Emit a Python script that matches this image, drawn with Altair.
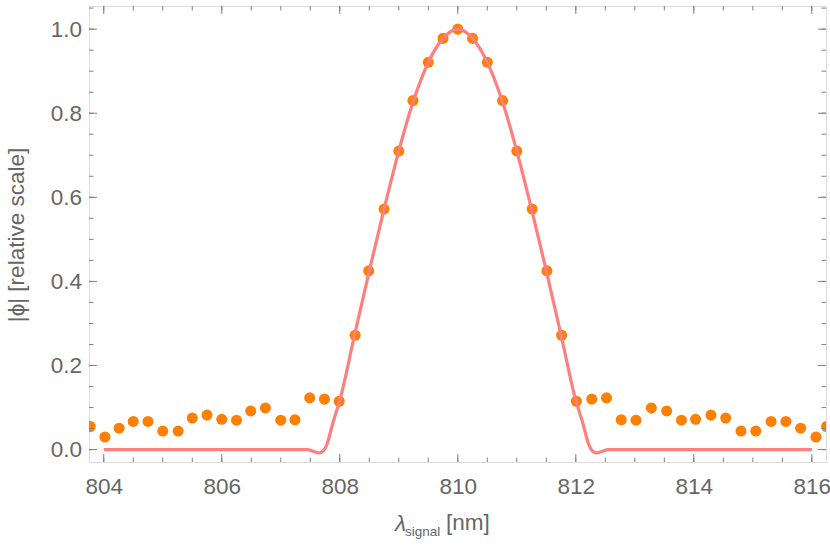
import altair as alt
import pandas as pd

# ---- data ----
pt_lambda = [803.77, 804.02, 804.26, 804.50, 804.75, 805.00, 805.26, 805.50, 805.75, 806.00,
             806.25, 806.49, 806.74, 807.00, 807.24, 807.49, 807.74, 807.99, 808.26, 808.49,
             808.75, 809.00, 809.24, 809.50, 809.75, 810.00, 810.25, 810.50, 810.76, 811.00,
             811.26, 811.51, 811.76, 812.01, 812.27, 812.52, 812.77, 813.02, 813.28, 813.54,
             813.79, 814.03, 814.29, 814.54, 814.80, 815.05, 815.31, 815.56, 815.81, 816.07,
             816.25]
pt_phi = [0.055, 0.030, 0.051, 0.067, 0.067, 0.044, 0.044, 0.075, 0.082, 0.072,
          0.070, 0.092, 0.099, 0.070, 0.071, 0.123, 0.120, 0.115, 0.272, 0.425,
          0.572, 0.710, 0.830, 0.921, 0.978, 1.000, 0.978, 0.921, 0.830, 0.710,
          0.572, 0.425, 0.272, 0.115, 0.120, 0.123, 0.071, 0.070, 0.099, 0.092,
          0.070, 0.072, 0.082, 0.075, 0.044, 0.044, 0.067, 0.067, 0.051, 0.030,
          0.055]

line_lambda = [804.00, 807.45, 807.55, 807.65, 807.72, 807.78, 807.88, 808.00, 808.25, 808.50,
               808.75, 809.00, 809.25, 809.50, 809.75, 810.00, 810.25, 810.50, 810.75, 811.00,
               811.25, 811.50, 811.75, 812.00, 812.12, 812.22, 812.28, 812.35, 812.45, 812.55,
               816.00]
line_phi = [0.000, 0.000, -0.004, -0.008, -0.003, 0.012, 0.062, 0.117, 0.272, 0.425,
            0.572, 0.710, 0.830, 0.921, 0.978, 1.000, 0.978, 0.921, 0.830, 0.710,
            0.572, 0.425, 0.272, 0.117, 0.062, 0.012, -0.003, -0.008, -0.004, 0.000,
            0.000]

x_major = [804, 806, 808, 810, 812, 814, 816]
x_minor = [804 + 0.5 * i for i in range(25)]
y_major = [0.0, 0.2, 0.4, 0.6, 0.8, 1.0]
y_minor = [round(0.05 * i, 2) for i in range(22)]

x_domain = [803.75, 816.24]
y_domain = [-0.0295, 1.055]

# ---- style ----
W, H = 737, 456
FONT = "Liberation Sans"
GRAY_TXT = "#666666"
GRAY_FRAME = "#808080"
ORANGE = "#FF8000"
PINK = "#FF7F7F"
MAJ, MIN = 8, 4.5
FS = 22.5

xs = alt.Scale(domain=x_domain, nice=False, zero=False)
ys = alt.Scale(domain=y_domain, nice=False, zero=False)

pts_df = pd.DataFrame({"lam": pt_lambda, "phi": pt_phi})
line_df = pd.DataFrame({"lam": line_lambda, "phi": line_phi})

x_axis = alt.Axis(values=x_major, format="d", ticks=False, domain=False, grid=False,
                  labelFont=FONT, labelFontSize=FS, labelColor=GRAY_TXT, labelPadding=13,
                  title=None)
y_axis = alt.Axis(values=y_major, format=".1f", ticks=False, domain=False, grid=False,
                  labelFont=FONT, labelFontSize=FS, labelColor=GRAY_TXT, labelPadding=7.5,
                  title=None)

points = alt.Chart(pts_df).mark_circle(size=122, color=ORANGE, opacity=1, clip=True).encode(
    x=alt.X("lam:Q", scale=xs, axis=x_axis),
    y=alt.Y("phi:Q", scale=ys, axis=y_axis),
)

line = alt.Chart(line_df).mark_line(color=PINK, strokeWidth=3.2, interpolate="monotone").encode(
    x=alt.X("lam:Q", scale=xs),
    y=alt.Y("phi:Q", scale=ys),
)

def xticks(vals, length):
    df = pd.DataFrame({"v": vals})
    bottom = alt.Chart(df).mark_rule(color=GRAY_FRAME, strokeWidth=1).encode(
        x=alt.X("v:Q", scale=xs), y=alt.value(H), y2=alt.value(H - length))
    top = alt.Chart(df).mark_rule(color=GRAY_FRAME, strokeWidth=1).encode(
        x=alt.X("v:Q", scale=xs), y=alt.value(0), y2=alt.value(length))
    return [bottom, top]

def yticks(vals, length):
    df = pd.DataFrame({"v": vals})
    left = alt.Chart(df).mark_rule(color=GRAY_FRAME, strokeWidth=1).encode(
        y=alt.Y("v:Q", scale=ys), x=alt.value(0), x2=alt.value(length))
    right = alt.Chart(df).mark_rule(color=GRAY_FRAME, strokeWidth=1).encode(
        y=alt.Y("v:Q", scale=ys), x=alt.value(W), x2=alt.value(W - length))
    return [left, right]

tick_layers = xticks(x_major, MAJ) + xticks(x_minor, MIN) + yticks(y_major, MAJ) + yticks(y_minor, MIN)

one = alt.Data(values=[{"a": 1}])

def label(text, x, y, size, **kw):
    return alt.Chart(one).mark_text(text=text, font=FONT, fontSize=size, color=GRAY_TXT,
                                    align="left", baseline="alphabetic", **kw).encode(
        x=alt.value(x), y=alt.value(y))

t_lam = label("λ", 306, 525, FS, fontStyle="italic")
t_sig = label("signal", 316, 530, 13.5)
t_nm = label("[nm]", 357, 524, FS)
t_y = alt.Chart(one).mark_text(text="|ϕ| [relative scale]", font=FONT, fontSize=FS,
                               color=GRAY_TXT, align="center", baseline="middle",
                               angle=270).encode(x=alt.value(-72), y=alt.value(229))

chart = alt.layer(points, line, *tick_layers, t_lam, t_sig, t_nm, t_y).properties(
    width=W, height=H,
    autosize=alt.AutoSizeParams(type="none"),
    padding={"left": 89, "top": 6, "right": 4, "bottom": 87},
).configure_view(stroke=GRAY_FRAME, strokeWidth=1.2).configure(background="white")

chart.save("out.html", embed_options={"renderer": "svg", "actions": False})
